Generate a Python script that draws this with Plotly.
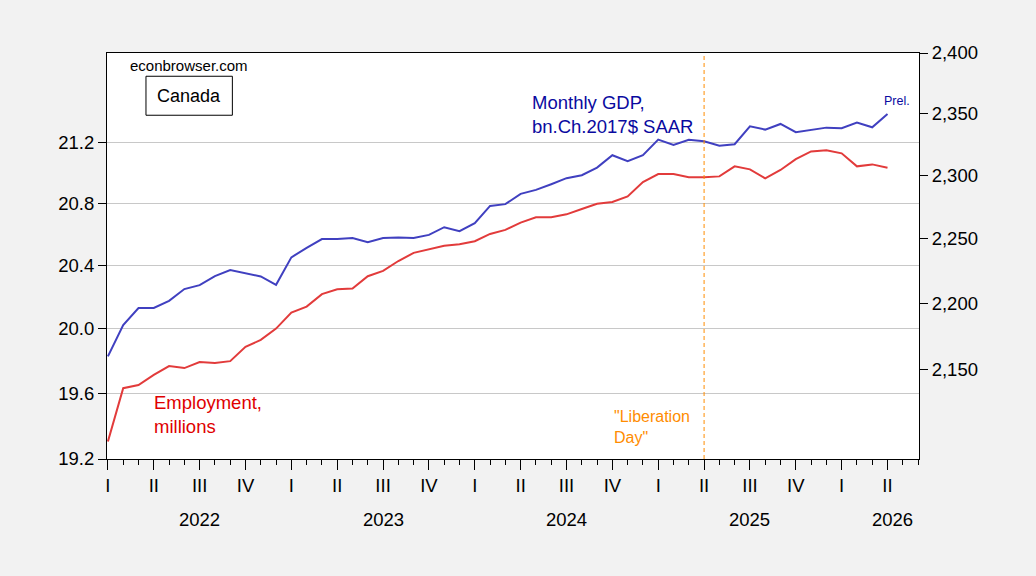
import plotly.graph_objects as go
import math

# ---- data (monthly, Jan 2022 - Apr 2026) ----
months = [f"{y}-{m:02d}" for y in range(2022, 2027) for m in range(1, 13)][:52]

employment_mn = [19.306, 19.631, 19.650, 19.713, 19.767, 19.755, 19.792, 19.786, 19.798, 19.887, 19.930, 20.001,
                 20.101, 20.139, 20.218, 20.249, 20.253, 20.332, 20.366, 20.429, 20.481, 20.504, 20.527, 20.536,
                 20.556, 20.603, 20.629, 20.676, 20.711, 20.711, 20.730, 20.765, 20.799, 20.810, 20.847, 20.941,
                 20.993, 20.993, 20.972, 20.972, 20.978, 21.044, 21.024, 20.965, 21.020, 21.092, 21.143, 21.150,
                 21.130, 21.044, 21.057, 21.035]

gdp_bn = [2160.0, 2183.6, 2196.6, 2196.6, 2202.1, 2211.1, 2214.1, 2221.1, 2225.7, 2223.4, 2220.8, 2214.4,
          2235.6, 2243.0, 2249.8, 2249.8, 2250.6, 2247.4, 2250.6, 2251.0, 2250.6, 2253.1, 2259.1, 2256.0,
          2262.3, 2275.9, 2277.3, 2285.4, 2288.6, 2293.1, 2297.9, 2300.3, 2306.4, 2316.3, 2311.5, 2316.3,
          2328.9, 2324.6, 2328.8, 2327.6, 2324.0, 2325.2, 2339.7, 2337.0, 2341.6, 2334.9, 2336.5, 2338.6,
          2338.1, 2342.7, 2338.9, 2349.7]

left_ticks = [19.2, 19.6, 20.0, 20.4, 20.8, 21.2]
left_ticktext = ["19.2", "19.6", "20.0", "20.4", "20.8", "21.2"]
right_ticks = [2150, 2200, 2250, 2300, 2350, 2400]
right_ticktext = ["2,150", "2,200", "2,250", "2,300", "2,350", "2,400"]
quarter_names = ["I", "II", "III", "IV"]
year_labels = ["2022", "2023", "2024", "2025", "2026"]
liberation_day = "2025-04"

x = list(range(len(months)))
n_axis_months = 54  # axis runs to Jun 2026
q_vals = list(range(0, n_axis_months, 3))
q_text = [quarter_names[(v // 3) % 4] for v in q_vals]

FONT = "Liberation Sans, Arial, sans-serif"
BLUE = "#4040C0"
RED = "#E23B3B"
NAVY = "#0A0AA0"
ORANGE = "#FF8C00"

fig = go.Figure()
fig.add_trace(go.Scatter(x=x, y=employment_mn, mode="lines", line=dict(color=RED, width=2),
                         yaxis="y", showlegend=False, hoverinfo="skip"))
fig.add_trace(go.Scatter(x=x, y=gdp_bn, mode="lines", line=dict(color=BLUE, width=2),
                         yaxis="y2", showlegend=False, hoverinfo="skip"))

lib_x = months.index(liberation_day)
fig.add_shape(type="line", xref="x", yref="paper", x0=lib_x, x1=lib_x, y0=0, y1=1,
              line=dict(color=ORANGE, width=1, dash="4px,3px"))

# frame box "Canada"
fig.add_shape(type="rect", xref="paper", yref="paper", x0=0.0480, x1=0.1544, y0=0.8467, y1=0.9427,
              line=dict(color="black", width=1), fillcolor="white", layer="above")

annots = [
    dict(text="econbrowser.com", x=0.0259, y=0.969, xanchor="left", yanchor="middle",
         font=dict(size=15, color="black")),
    dict(text="Canada", x=0.1012, y=0.895, xanchor="center", yanchor="middle",
         font=dict(size=18, color="black")),
    dict(text="Monthly GDP,<br>bn.Ch.2017$ SAAR", x=0.5205, y=0.8475, xanchor="left", yanchor="middle",
         align="left", font=dict(size=18.5, color=NAVY)),
    dict(text="Prel.", x=0.9549, y=0.8807, xanchor="left", yanchor="middle",
         font=dict(size=12.5, color=NAVY)),
    dict(text="Employment,<br>millions", x=0.0559, y=0.1102, xanchor="left", yanchor="middle",
         align="left", font=dict(size=18.5, color="#E00000")),
    dict(text="\"Liberation<br>Day\"", x=0.6224, y=0.0785, xanchor="left", yanchor="middle",
         align="left", font=dict(size=16, color=ORANGE)),
]
year_pos = [6, 18, 30, 42, 51.3]
for yl, xp in zip(year_labels, year_pos):
    annots.append(dict(text=yl, x=xp, xref="x", y=-0.148, yref="paper", xanchor="center",
                       yanchor="middle", font=dict(size=18.5, color="black")))
for a in annots:
    a.setdefault("xref", "paper")
    a.setdefault("yref", "paper")
    a["showarrow"] = False
fig.update_layout(annotations=annots)

fig.update_layout(
    width=1036, height=576,
    margin=dict(l=107.3, r=116.7, t=53, b=116.5, pad=0),
    paper_bgcolor="#F2F2F2", plot_bgcolor="white",
    font=dict(family=FONT, size=18.5, color="black"),
    xaxis=dict(range=[-0.06, 53.06], tickmode="array", tickvals=q_vals, ticktext=q_text,
               ticks="outside", ticklen=10, tickcolor="black", tickwidth=1,
               minor=dict(tickmode="linear", tick0=0, dtick=1, ticks="outside", ticklen=5,
                          tickcolor="black", tickwidth=1, showgrid=False),
               showline=True, linecolor="black", linewidth=1, mirror=True,
               showgrid=False, zeroline=False, tickfont=dict(size=18.5)),
    yaxis=dict(type="log", range=[math.log10(19.2), math.log10(21.805)],
               tickmode="array", tickvals=left_ticks, ticktext=left_ticktext,
               ticks="outside", ticklen=8, tickcolor="black",
               showline=True, linecolor="black", linewidth=1,
               showgrid=True, gridcolor="#C8C8C8", gridwidth=1, zeroline=False),
    yaxis2=dict(type="log", range=[math.log10(2084.4), math.log10(2400)], overlaying="y", side="right",
                tickmode="array", tickvals=right_ticks, ticktext=right_ticktext,
                ticks="outside", ticklen=8, tickcolor="black",
                showline=True, linecolor="black", linewidth=1,
                showgrid=False, zeroline=False),
)

fig.write_html("out.html", config={"displayModeBar": False},
               post_script="document.body.style.margin='0';document.body.style.background='#F2F2F2';")
